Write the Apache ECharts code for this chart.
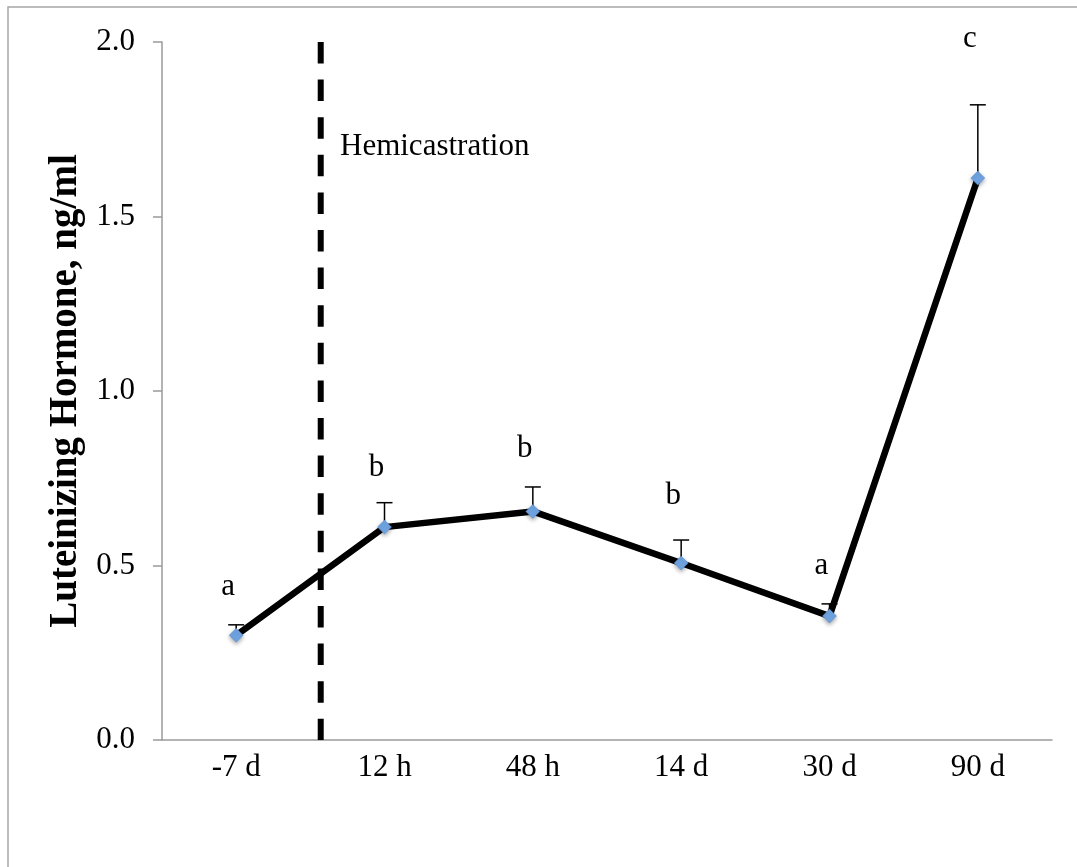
<!DOCTYPE html>
<html>
<head>
<meta charset="utf-8">
<script src="https://cdn.jsdelivr.net/npm/echarts@6/dist/echarts.min.js"></script>
<style>
html,body{margin:0;padding:0;background:#fff;}
#chart{width:1077px;height:867px;}
</style>
</head>
<body>
<div id="chart"></div>
<script>
const categories = ['-7 d', '12 h', '48 h', '14 d', '30 d', '90 d'];
const lhMean = [0.30, 0.61, 0.655, 0.507, 0.355, 1.61];
const lhErrTop = [0.33, 0.68, 0.725, 0.573, 0.39, 1.82];
const letters = ['a', 'b', 'b', 'b', 'a', 'c'];
const letterY = [0.44, 0.78, 0.835, 0.70, 0.50, 2.01];
const yTicks = [0, 0.5, 1.0, 1.5, 2.0];
const hemicastrationX = 0.57;
const eventLabel = 'Hemicastration';
const yTitle = 'Luteinizing Hormone, ng/ml';

const FONT = '"Liberation Serif", "Times New Roman", serif';
const chart = echarts.init(document.getElementById('chart'), null, {renderer: 'canvas'});

const option = {
  backgroundColor: '#ffffff',
  animation: false,
  grid: {left: 162, right: 25, top: 42, bottom: 127},
  xAxis: [
    {
      type: 'category',
      data: categories,
      boundaryGap: true,
      axisLine: {lineStyle: {color: '#9a9a9a', width: 1.5}},
      axisTick: {show: false},
      axisLabel: {color: '#000', fontFamily: FONT, fontSize: 31, margin: 12}
    },
    {
      type: 'value',
      min: -0.5, max: 5.5,
      show: false
    }
  ],
  yAxis: {
    type: 'value',
    min: yTicks[0], max: yTicks[yTicks.length - 1], interval: 0.5,
    splitLine: {show: false},
    axisLine: {show: true, onZero: false, lineStyle: {color: '#9a9a9a', width: 1.5}},
    axisTick: {show: true, inside: false, length: 9, lineStyle: {color: '#9a9a9a', width: 1.5}},
    axisLabel: {color: '#000', fontFamily: FONT, fontSize: 31, margin: 27,
      formatter: v => v.toFixed(1)},
    name: yTitle,
    nameLocation: 'middle',
    nameGap: 60,
    nameRotate: 90,
    nameTextStyle: {color: '#000', fontFamily: FONT, fontSize: 39, fontWeight: 'bold'}
  },
  series: [
    {
      type: 'line',
      xAxisIndex: 1,
      data: [[hemicastrationX, yTicks[yTicks.length - 1]], [hemicastrationX, yTicks[0]]],
      symbol: 'none',
      silent: true,
      lineStyle: {color: '#000', width: 6, type: [21.5, 16.1], cap: 'butt'},
      z: 2
    },
    {
      type: 'custom',
      xAxisIndex: 0,
      data: lhMean.map((v, i) => [i, v, lhErrTop[i]]),
      renderItem: function (params, api) {
        const p0 = api.coord([api.value(0), api.value(1)]);
        const p1 = api.coord([api.value(0), api.value(2)]);
        const cap = 8;
        return {
          type: 'group',
          children: [
            {type: 'line', shape: {x1: p0[0], y1: p0[1], x2: p1[0], y2: p1[1]},
              style: {stroke: '#000', lineWidth: 1.5}},
            {type: 'line', shape: {x1: p1[0] - cap, y1: p1[1], x2: p1[0] + cap, y2: p1[1]},
              style: {stroke: '#000', lineWidth: 1.5}}
          ]
        };
      },
      z: 3
    },
    {
      type: 'line',
      xAxisIndex: 0,
      data: lhMean,
      symbol: 'diamond',
      symbolSize: 14,
      showAllSymbol: true,
      lineStyle: {color: '#000', width: 6.5},
      itemStyle: {color: '#6fa3e0', borderColor: '#5a8fd0', borderWidth: 0.5,
        shadowColor: 'rgba(0,0,0,0.35)', shadowBlur: 4, shadowOffsetY: 2},
      z: 4
    },
    {
      type: 'custom',
      xAxisIndex: 0,
      data: letterY.map((v, i) => [i, v]),
      clip: false,
      silent: true,
      renderItem: function (params, api) {
        const p = api.coord([api.value(0), api.value(1)]);
        return {
          type: 'text',
          x: p[0] - 8, y: p[1],
          style: {
            text: letters[params.dataIndex],
            fill: '#000', font: '31px ' + FONT,
            align: 'center', verticalAlign: 'middle'
          }
        };
      },
      z: 5
    }
  ],
  graphic: [
    {
      type: 'rect', silent: true,
      shape: {x: 8, y: 7, width: 1200, height: 1000},
      style: {fill: 'none', stroke: '#a6a6a6', lineWidth: 1.5},
      z: -1
    },
    {
      type: 'text', left: 340, top: 131, silent: true,
      style: {text: eventLabel, fill: '#000', font: '31px ' + FONT}
    }
  ]
};
chart.setOption(option);
</script>
</body>
</html>
